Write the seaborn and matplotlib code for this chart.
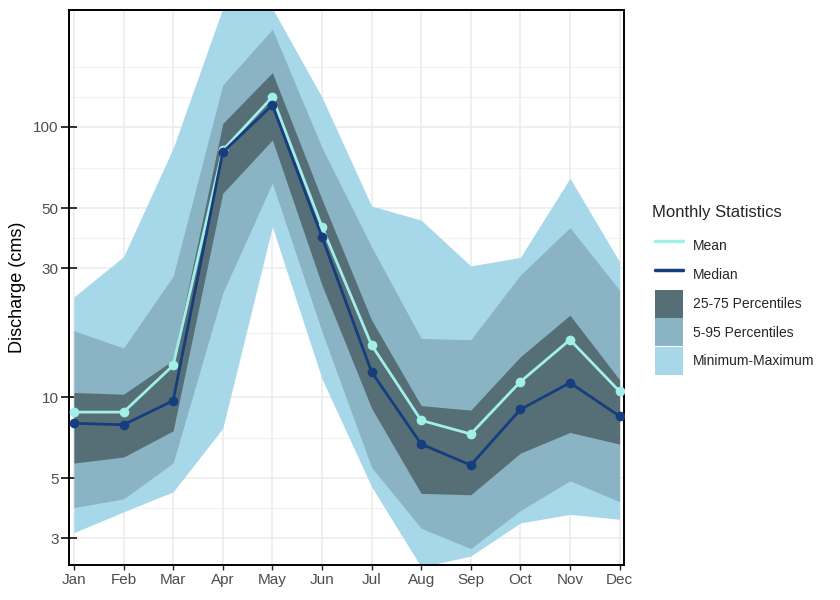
import numpy as np
import pandas as pd
import matplotlib
matplotlib.use('Agg')
import matplotlib.pyplot as plt
import seaborn as sns
from matplotlib.lines import Line2D
from matplotlib.patches import Patch

# Monthly discharge statistics (cms)
months = ["Jan", "Feb", "Mar", "Apr", "May", "Jun", "Jul", "Aug", "Sep", "Oct", "Nov", "Dec"]
q_mean = [8.8, 8.8, 13.1, 82.0, 129.0, 42.7, 15.6, 8.2, 7.3, 11.4, 16.3, 10.5]
q_median = [8.0, 7.9, 9.7, 80.6, 120.6, 39.2, 12.4, 6.7, 5.6, 9.0, 11.3, 8.5]
q_p25 = [5.7, 6.0, 7.5, 56.8, 89.5, 26.0, 9.1, 4.4, 4.35, 6.2, 7.4, 6.7]
q_p75 = [10.4, 10.25, 13.7, 103.0, 159.0, 54.0, 19.3, 9.3, 8.95, 14.1, 20.1, 11.6]
q_p05 = [3.9, 4.2, 5.7, 24.3, 62.0, 17.5, 5.5, 3.27, 2.75, 3.8, 4.9, 4.1]
q_p95 = [17.6, 15.2, 28.0, 143.0, 230.0, 84.0, 36.0, 16.5, 16.3, 28.3, 42.4, 24.9]
q_min = [3.15, 3.76, 4.46, 7.66, 42.7, 11.7, 4.66, 2.35, 2.58, 3.42, 3.68, 3.53]
q_max = [23.5, 33.1, 83.4, 275.0, 275.0, 129.0, 51.0, 45.2, 30.6, 32.9, 64.6, 31.7]

y_ticks = [3, 5, 10, 30, 50, 100]
grid_minor = [3.87, 7.07, 17.3, 38.7, 70.7, 129, 167]

col_mean = "#A2EEE8"
col_median = "#163D7D"
col_iqr = "#566F77"
col_p595 = "#8AB3C4"
col_minmax = "#A6D8EA"

month_num = np.arange(1, 13)
lines_df = pd.DataFrame({
    "month": np.tile(month_num, 2),
    "q": q_mean + q_median,
    "stat": ["Mean"] * 12 + ["Median"] * 12,
})

sns.set_theme(style="white")
plt.rcParams['font.family'] = ['Liberation Sans', 'DejaVu Sans']

fig = plt.figure(figsize=(8.4, 6), dpi=100)
ax = fig.add_axes([0.0821, 0.0583, 0.6602, 0.925])

# grid
for v in y_ticks:
    ax.axhline(v, color="#EBEBEB", lw=1.1, zorder=0)
for v in grid_minor:
    ax.axhline(v, color="#F2F2F2", lw=0.8, zorder=0)
for m in month_num:
    ax.axvline(m, color="#EBEBEB", lw=1.1, zorder=0)

# bands
ax.fill_between(month_num, q_min, q_max, color=col_minmax, lw=0, zorder=1)
ax.fill_between(month_num, q_p05, q_p95, color=col_p595, lw=0, zorder=2)
ax.fill_between(month_num, q_p25, q_p75, color=col_iqr, lw=0, zorder=3)

# mean / median lines (median drawn on top)
sns.lineplot(data=lines_df, x="month", y="q", hue="stat",
             palette={"Mean": col_mean, "Median": col_median},
             hue_order=["Mean", "Median"],
             marker="o", markersize=7, markeredgewidth=0, linewidth=2.0,
             legend=False, ax=ax, zorder=4)

ax.set_yscale("log")
ax.set_ylim(2.39, 271)
ax.set_xlim(0.9, 12.08)
ax.set_yticks(y_ticks)
ax.set_yticklabels([str(v) for v in y_ticks])
ax.yaxis.set_minor_locator(matplotlib.ticker.LogLocator(base=10, subs=np.arange(2, 10)))
ax.yaxis.set_minor_formatter(matplotlib.ticker.NullFormatter())
ax.set_xticks(month_num)
ax.set_xticklabels(months)

ax.tick_params(axis="y", which="major", direction="inout", length=11, width=1.3,
               color="#222222", labelsize=11, labelcolor="#4D4D4D", pad=2)
ax.tick_params(axis="y", which="minor", direction="in", length=3.5, width=1.0, color="#222222")
ax.tick_params(axis="x", which="major", direction="out", length=3.5, width=1.0,
               color="#222222", labelsize=11, labelcolor="#4D4D4D", pad=2)
ax.tick_params(left=True, bottom=True)

for s in ax.spines.values():
    s.set_color("black")
    s.set_linewidth(1.4)

ax.set_xlabel("")
ax.set_ylabel("Discharge (cms)", fontsize=13, color="black", labelpad=5)

handles = [
    Line2D([0], [0], color=col_mean, lw=2.5),
    Line2D([0], [0], color=col_median, lw=2.5),
    Patch(facecolor=col_iqr, edgecolor="none"),
    Patch(facecolor=col_p595, edgecolor="none"),
    Patch(facecolor=col_minmax, edgecolor="none"),
]
labels = ["Mean", "Median", "25-75 Percentiles", "5-95 Percentiles", "Minimum-Maximum"]
fig.text(0.776, 0.645, "Monthly Statistics", fontsize=12, ha="left", va="center")
leg = fig.legend(handles, labels, loc="upper left",
                 bbox_to_anchor=(0.765, 0.634), frameon=False, fontsize=10,
                 handlelength=2.0, handleheight=2.72,
                 labelspacing=0.06, handletextpad=0.7, borderpad=0.4)

fig.savefig("out.png", dpi=100)
